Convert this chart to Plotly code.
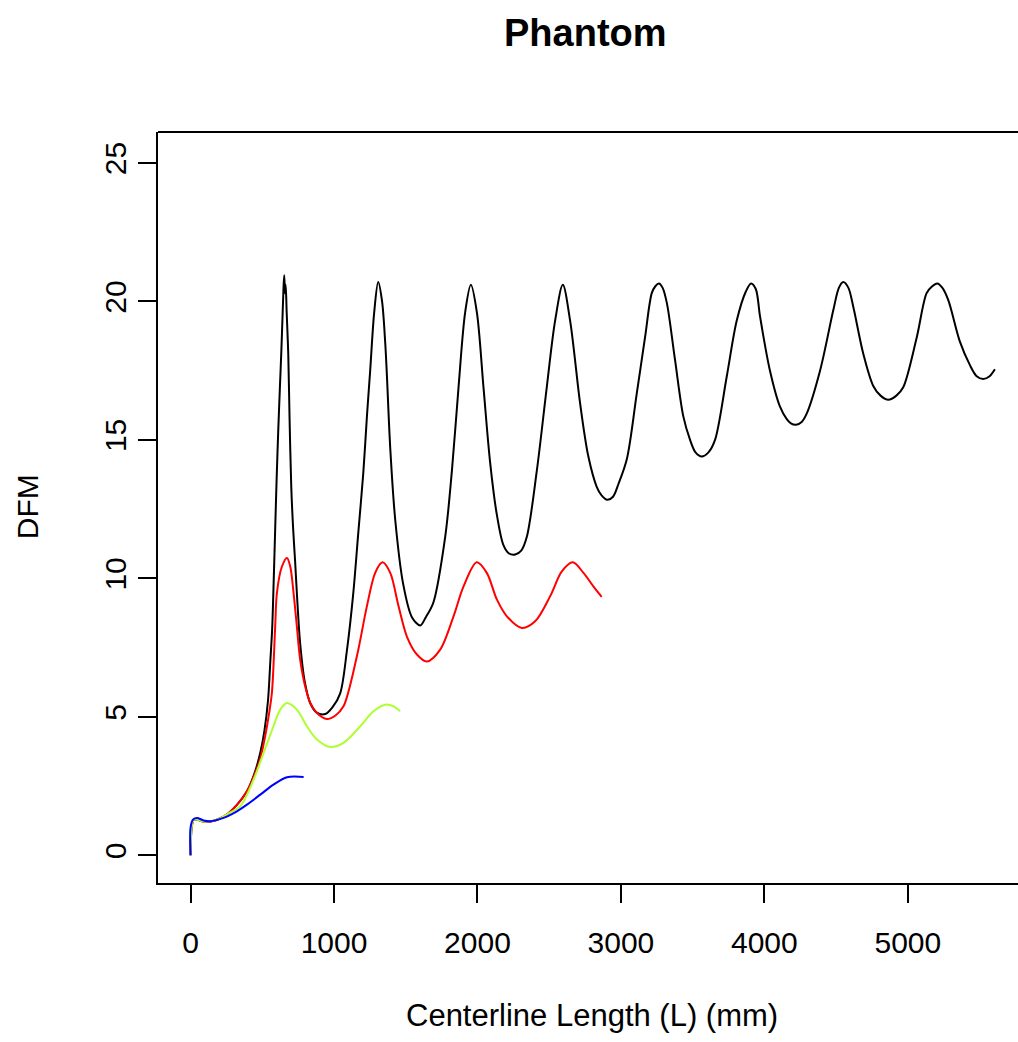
import plotly.graph_objects as go

# Centerline length (mm) and DFM values for each phantom curve
black_x = [0, 10, 25, 50, 90, 140, 200, 260, 320, 393, 445, 486, 515, 540, 556, 569, 580,
           590, 600, 611, 622, 632, 642, 648, 653, 658, 663, 670, 681, 690, 702, 715, 729,
           745, 764, 795, 834, 880, 939, 990, 1043, 1090, 1134, 1170, 1204, 1230, 1252,
           1280, 1308, 1335, 1357, 1368, 1392, 1427, 1482, 1543, 1601, 1640, 1692, 1775,
           1822, 1868, 1914, 1954, 1996, 2042, 2088, 2135, 2181, 2220, 2263, 2305, 2344,
           2414, 2483, 2541, 2595, 2646, 2716, 2773, 2832, 2865, 2905, 2945, 2982, 3041,
           3111, 3168, 3215, 3240, 3265, 3290, 3320, 3377, 3435, 3482, 3520, 3563, 3610,
           3656, 3738, 3807, 3870, 3907, 3940, 3970, 4039, 4109, 4156, 4185, 4221, 4260,
           4295, 4388, 4481, 4520, 4550, 4585, 4620, 4690, 4759, 4810, 4864, 4920, 4968,
           5062, 5131, 5170, 5205, 5240, 5282, 5363, 5433, 5480, 5526, 5570, 5607]
black_y = [0, 1.1, 1.3, 1.28, 1.22, 1.22, 1.32, 1.5, 1.8, 2.31, 2.95, 3.7, 4.5, 5.6, 7.0,
           8.2, 10.0, 11.8, 13.6, 15.3, 16.8, 18.1, 19.6, 20.5, 20.95, 20.3, 20.6, 19.6, 18.1,
           15.8, 13.3, 11.8, 10.6, 9.1, 7.65, 6.3, 5.5, 5.15, 5.1, 5.35, 5.85, 7.4, 9.45,
           11.7, 13.8, 15.9, 17.5, 19.6, 20.7, 20.0, 18.5, 17.4, 14.7, 12.1, 9.8, 8.6, 8.3,
           8.6, 9.12, 11.5, 13.9, 16.9, 19.6, 20.6, 19.6, 16.9, 14.2, 12.3, 11.2, 10.9,
           10.86, 11.0, 11.5, 13.9, 16.9, 19.3, 20.6, 19.3, 16.3, 14.4, 13.3, 13.0, 12.84,
           12.95, 13.4, 14.3, 16.7, 18.7, 20.3, 20.55, 20.65, 20.5, 19.95, 17.9, 15.85,
           15.0, 14.55, 14.4, 14.55, 15.0, 17.3, 19.3, 20.35, 20.65, 20.45, 19.45, 17.5,
           16.2, 15.75, 15.6, 15.55, 15.65, 15.95, 17.5, 19.7, 20.5, 20.7, 20.5, 19.8, 18.1,
           16.95, 16.6, 16.45, 16.6, 16.9, 18.7, 20.3, 20.55, 20.65, 20.5, 20.05, 18.55,
           17.7, 17.3, 17.2, 17.3, 17.55]

red_x = [0, 10, 25, 50, 90, 140, 200, 260, 320, 393, 445, 486, 520, 544, 567, 590, 602,
         637, 672, 695, 718, 741, 764, 799, 834, 881, 950, 1010, 1066, 1159, 1229, 1287,
         1338, 1392, 1450, 1508, 1578, 1647, 1740, 1833, 1903, 1995, 2065, 2135, 2205,
         2309, 2402, 2506, 2588, 2664, 2739, 2808, 2866]
red_y = [0, 1.1, 1.3, 1.28, 1.22, 1.22, 1.32, 1.5, 1.8, 2.31, 2.9, 3.5, 4.3, 5.02, 5.87,
         8.27, 9.48, 10.43, 10.74, 10.43, 9.47, 8.27, 7.07, 6.1, 5.5, 5.14, 4.92, 5.05,
         5.38, 7.18, 8.99, 10.2, 10.58, 10.2, 8.99, 7.9, 7.25, 7.0, 7.43, 8.63, 9.71,
         10.58, 10.2, 9.24, 8.63, 8.21, 8.45, 9.35, 10.25, 10.58, 10.2, 9.71, 9.33]

green_x = [0, 10, 25, 50, 90, 137, 200, 260, 346, 439, 509, 578, 625, 672, 741, 811, 881,
           973, 1066, 1183, 1275, 1357, 1415, 1461]
green_y = [0, 1.1, 1.3, 1.28, 1.22, 1.23, 1.32, 1.5, 1.77, 2.73, 3.7, 4.66, 5.26, 5.5,
           5.26, 4.66, 4.18, 3.91, 4.06, 4.66, 5.2, 5.44, 5.38, 5.2]

blue_x = [0, 0, 17, 45, 91, 137, 230, 323, 393, 486, 578, 672, 788]
blue_y = [0, 1.0, 1.29, 1.35, 1.26, 1.23, 1.35, 1.59, 1.83, 2.19, 2.55, 2.82, 2.83]

x_ticks = [0, 1000, 2000, 3000, 4000, 5000]
y_ticks = [0, 5, 10, 15, 20, 25]

FONT = "Liberation Sans, Arial, sans-serif"

fig = go.Figure()
for xs, ys, col in [(black_x, black_y, "#000000"),
                    (red_x, red_y, "#FF0000"),
                    (green_x, green_y, "#ADFF2F"),
                    (blue_x, blue_y, "#0000FF")]:
    fig.add_trace(go.Scatter(x=xs, y=ys, mode="lines",
                             line=dict(color=col, width=2, shape="spline", smoothing=0.9),
                             showlegend=False, hoverinfo="skip"))

axis_common = dict(showgrid=False, zeroline=False, showline=True, linecolor="#000000",
                   linewidth=2, ticks="outside", ticklen=18, tickwidth=2,
                   tickcolor="#000000", automargin=False,
                   tickfont=dict(family=FONT, size=30, color="#000000"))

fig.update_xaxes(range=[-227, 5768], tickvals=x_ticks, ticktext=[str(v) for v in x_ticks],
                 ticklabelstandoff=14, **axis_common)
fig.update_yaxes(range=[-1.0, 26.12], tickvals=y_ticks, ticktext=[str(v) for v in y_ticks],
                 tickangle=-90, ticklabelstandoff=0, **axis_common)

# top border of the plotting box
fig.add_shape(type="line", xref="paper", yref="paper", x0=0, x1=1, y0=1, y1=1,
              line=dict(color="#000000", width=2))

fig.add_annotation(text="<b>Phantom</b>", xref="paper", yref="paper", x=0.4967, y=1.1318,
                   xanchor="center", yanchor="middle", showarrow=False,
                   font=dict(family=FONT, size=38, color="#000000"))
fig.add_annotation(text="Centerline Length (L) (mm)", xref="paper", yref="paper",
                   x=0.5048, y=-0.1766, xanchor="center", yanchor="middle", showarrow=False,
                   font=dict(family=FONT, size=31, color="#000000"))
fig.add_annotation(text="DFM", xref="paper", yref="paper", x=-0.1508, y=0.5009,
                   xanchor="center", yanchor="middle", textangle=-90, showarrow=False,
                   font=dict(family=FONT, size=30, color="#000000"))

fig.update_layout(width=1018, height=1042, margin=dict(l=158, r=0, t=132, b=159),
                  paper_bgcolor="#FFFFFF", plot_bgcolor="#FFFFFF")

fig.write_html("out.html")
